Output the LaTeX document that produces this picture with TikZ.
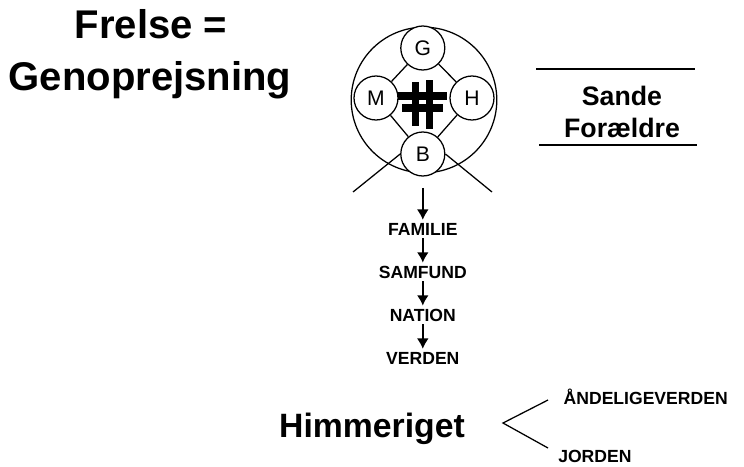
\documentclass[tikz,border=0pt]{standalone}
\usepackage{fontspec}
\setmainfont{Liberation Sans}
\usetikzlibrary{arrows.meta}

\begin{document}
\begin{tikzpicture}[
  ring/.style={circle, draw=black, fill=white, line width=0.9pt, minimum size=1.1cm, inner sep=0pt,
    font=\fontsize{15}{15}\selectfont},
  lvl/.style={font=\bfseries\fontsize{12.5}{13}\selectfont, inner sep=2pt},
  arr/.style={-{Latex[length=2.6mm,width=3mm]}, line width=1.6pt},
  head/.style={font=\bfseries\fontsize{28.5}{30}\selectfont, anchor=base},
  sub/.style={font=\bfseries\fontsize{19}{20}\selectfont, anchor=base},
  small/.style={font=\bfseries\fontsize{12.5}{13}\selectfont, anchor=west, inner sep=1pt}
]
\useasboundingbox (0,0) rectangle (18.6,11.65);

% title
\node[head] (frelse) at (3.775,10.7) {Frelse =};
\node[head] (genop) at (3.75,9.4) {Genoprejsning};

% sande foraeldre
\draw[line width=1.5pt] (13.4,9.925) -- (17.375,9.925);
\node[sub] (sande) at (15.55,9.025) {Sande};
\node[sub] (foraeldre) at (15.55,8.225) {Forældre};
\draw[line width=1.5pt] (13.475,8.025) -- (17.425,8.025);

% the four position circle
\node[circle, draw=black, line width=0.9pt, minimum size=3.64cm] (world) at (10.6,9.15) {};
\node[ring] (g) at (10.57,10.45) {G};
\node[ring] (m) at (9.4,9.2) {M};
\node[ring] (h) at (11.8,9.2) {H};
\node[ring] (b) at (10.57,7.8) {B};
\draw[line width=0.9pt] (g) -- (m) -- (b) -- (h) -- (g);
\coordinate (xl) at (8.825,6.85);
\coordinate (xr) at (12.3,6.85);
\draw[line width=0.9pt] (xl) -- (b.west);
\draw[line width=0.9pt] (xr) -- (b.east);

% cross mark
\draw[line width=5pt] (10.39,9.6) -- (10.39,8.5) (10.74,9.65) -- (10.74,8.42);
\draw[line width=5pt] (9.95,9.25) -- (11.175,9.25) (10.05,8.95) -- (11.075,8.95);

% levels
\node[lvl] (familie) at (10.57,5.925) {FAMILIE};
\node[lvl] (samfund) at (10.57,4.85) {SAMFUND};
\node[lvl] (nation) at (10.57,3.775) {NATION};
\node[lvl] (verden) at (10.57,2.7) {VERDEN};
\draw[arr, shorten <=0.28cm] (b) -- (familie);
\draw[arr] (familie) -- (samfund);
\draw[arr] (samfund) -- (nation);
\draw[arr] (nation) -- (verden);

% himmeriget
\node[font=\bfseries\fontsize{24}{26}\selectfont, anchor=base] (himmel) at (9.3,0.725) {Himmeriget};
\node[small] (aand) at (14.05,1.725) {ÅNDELIGEVERDEN};
\node[small, inner sep=0pt] (jord) at (13.95,0.24) {JORDEN};
\coordinate (apex) at (12.575,1.075);
\coordinate (up) at (13.7,1.65);
\coordinate (dn) at (13.7,0.45);
\draw[line width=0.9pt] (up) -- (apex) -- (dn);

\end{tikzpicture}
\end{document}
